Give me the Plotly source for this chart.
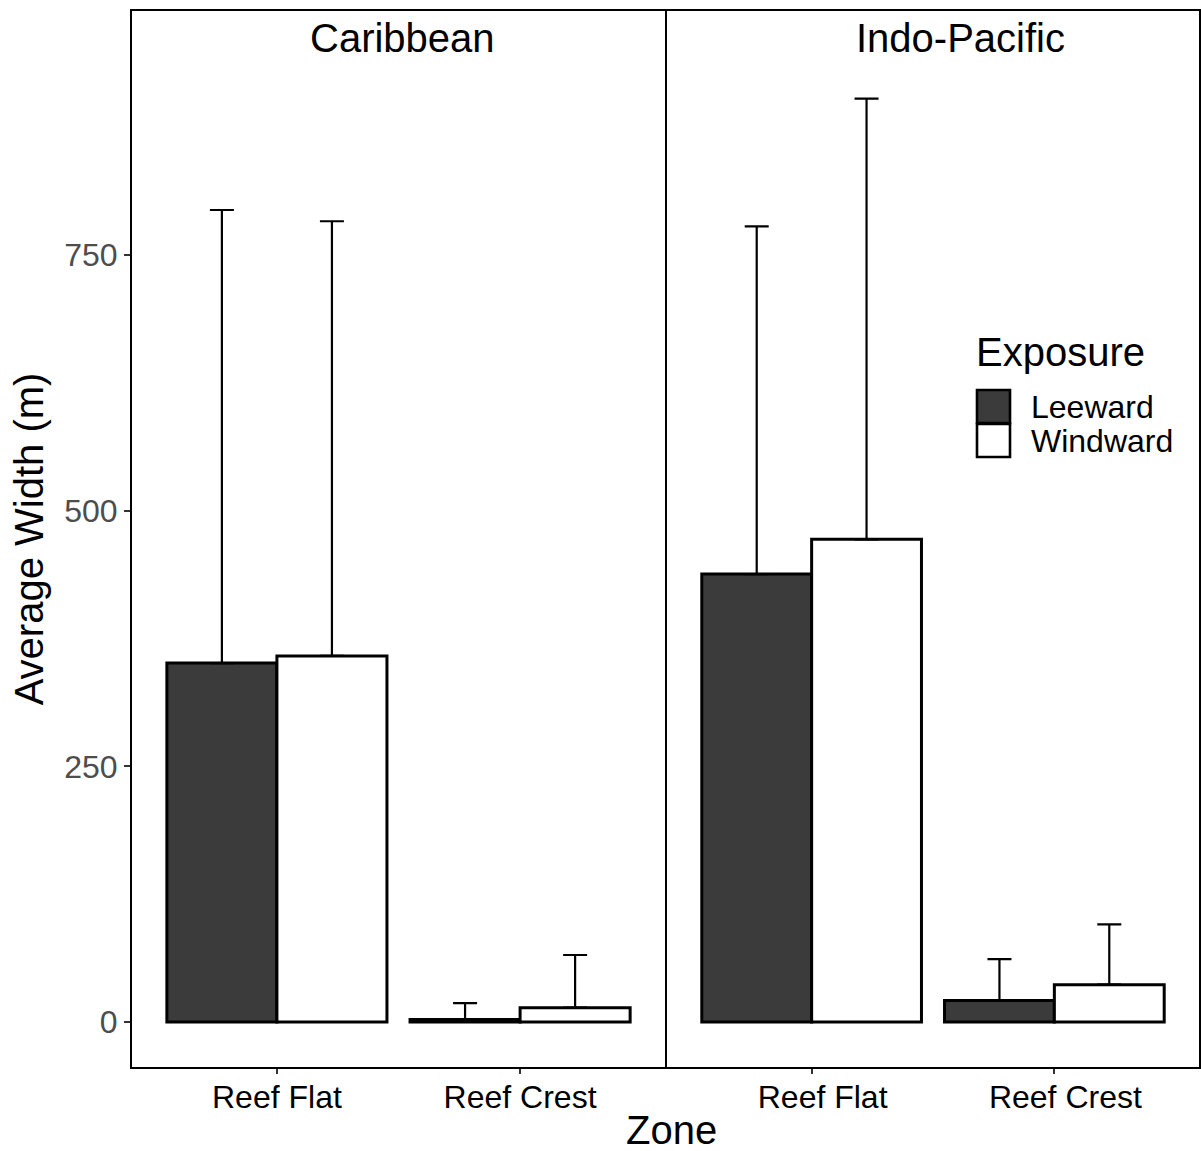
import plotly.graph_objects as go

# ---- data ----
regions = ["Caribbean", "Indo-Pacific"]
zones = ["Reef Flat", "Reef Crest"]
exposures = ["Leeward", "Windward"]

# mean average width (m) per region, per exposure, per zone
carib_leeward = [351, 2.5]
carib_windward = [358, 14]
indo_leeward = [438, 21]
indo_windward = [472, 36.5]

# upper error size (m)
carib_leeward_err = [443, 16]
carib_windward_err = [425, 51.5]
indo_leeward_err = [340, 40.5]
indo_windward_err = [431, 59]

y_ticks = [0, 250, 500, 750]

fill_colors = {"Leeward": "#3b3b3b", "Windward": "#ffffff"}

FONT = "Liberation Sans, Arial, Helvetica, sans-serif"

W, H = 1201, 1151
ML, MR, MT, MB = 131, 1, 10, 83
PW = W - ML - MR
PH = H - MT - MB


def px(x):
    return (x - ML) / PW


def py(y):
    return 1 - (y - MT) / PH


fig = go.Figure()

data = {
    ("Caribbean", "Leeward"): (carib_leeward, carib_leeward_err),
    ("Caribbean", "Windward"): (carib_windward, carib_windward_err),
    ("Indo-Pacific", "Leeward"): (indo_leeward, indo_leeward_err),
    ("Indo-Pacific", "Windward"): (indo_windward, indo_windward_err),
}

for i, reg in enumerate(regions):
    xa = "x" if i == 0 else "x2"
    for exp in exposures:
        vals, errs = data[(reg, exp)]
        fig.add_trace(go.Bar(
            x=zones, y=vals, name=exp, offsetgroup=exp,
            xaxis=xa, yaxis="y",
            marker=dict(color=fill_colors[exp], line=dict(color="black", width=3)),
            error_y=dict(type="data", array=errs, arrayminus=[0] * len(errs),
                         symmetric=False, color="black", thickness=2.2, width=12),
            showlegend=False,
        ))

split = 535 / PW
axis_common = dict(
    type="category", categoryorder="array", categoryarray=zones,
    range=[-0.6, 1.6], showgrid=False, zeroline=False, showline=False,
    ticks="outside", ticklen=5, tickwidth=2, tickcolor="#333333",
    tickfont=dict(size=32, color="black", family=FONT),
    ticklabelstandoff=-4,
)
fig.update_layout(
    xaxis=dict(domain=[0, split], anchor="y", **axis_common),
    xaxis2=dict(domain=[split, 1], anchor="y", ticklabelshift=11, **axis_common),
    yaxis=dict(
        domain=[0, 1], anchor="x", range=[-45, 989.6],
        tickvals=y_ticks, ticktext=[str(v) for v in y_ticks],
        showgrid=False, zeroline=False, showline=False,
        ticks="outside", ticklen=6, tickwidth=2, tickcolor="#333333",
        tickfont=dict(size=32, color="#4d4d4d", family=FONT),
        title=dict(text="Average Width (m)", font=dict(size=40, color="black", family=FONT),
                   standoff=8),
    ),
    barmode="group", bargap=0.095, bargroupgap=0,
    width=W, height=H,
    margin=dict(l=ML, r=MR, t=MT, b=MB),
    paper_bgcolor="white", plot_bgcolor="white",
    font=dict(family=FONT),
)

# panel borders
for xr in ["x domain", "x2 domain"]:
    fig.add_shape(type="rect", xref=xr, yref="y domain", x0=0, x1=1, y0=0, y1=1,
                  line=dict(color="black", width=2), layer="above")

# facet strip titles
strip_centers = [402, 960]
for reg, cx in zip(regions, strip_centers):
    fig.add_annotation(text=reg, xref="paper", yref="paper", x=px(cx), y=py(38),
                       xanchor="center", yanchor="middle", showarrow=False,
                       font=dict(size=40, color="black", family=FONT))

# x axis title
fig.add_annotation(text="Zone", xref="paper", yref="paper", x=px(671), y=py(1130),
                   xanchor="center", yanchor="middle", showarrow=False,
                   font=dict(size=40, color="black", family=FONT))

# legend (manual, large swatches)
fig.add_annotation(text="Exposure", xref="paper", yref="paper", x=px(974), y=py(352),
                   xanchor="left", yanchor="middle", showarrow=False,
                   font=dict(size=40, color="black", family=FONT))
sw_tops = [390, 424]
for exp, top in zip(exposures, sw_tops):
    fig.add_shape(type="rect", xref="paper", yref="paper",
                  x0=px(977), x1=px(1010), y0=py(top + 33), y1=py(top),
                  fillcolor=fill_colors[exp], line=dict(color="black", width=2.6))
    fig.add_annotation(text=exp, xref="paper", yref="paper", x=px(1029), y=py(top + 17),
                       xanchor="left", yanchor="middle", showarrow=False,
                       font=dict(size=32, color="black", family=FONT))

fig.write_html("out.html")
